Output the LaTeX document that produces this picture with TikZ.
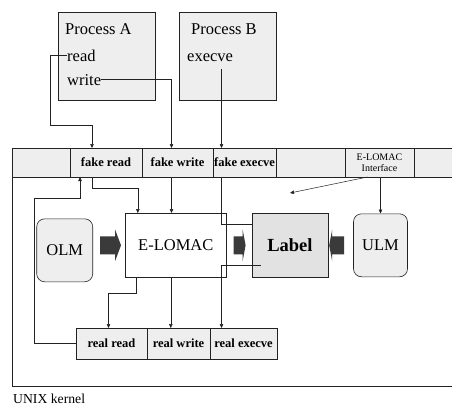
\documentclass[tikz,border=0pt]{standalone}
\usepackage{fontspec}
\setmainfont{Liberation Serif}
\usetikzlibrary{positioning, arrows.meta}
\definecolor{scan}{HTML}{EEEEEE}
\definecolor{scanlabel}{HTML}{E2E2E2}
\definecolor{ink}{HTML}{222222}
\definecolor{blockfill}{HTML}{3A3A3A}

\begin{document}
\begin{tikzpicture}[
    x=1pt, y=-1pt,
    >={Triangle[length=4pt, width=3.5pt]},
    proc/.style={draw=ink, fill=scan, anchor=north west, minimum width=97pt,
                 minimum height=88pt, line width=0.6pt},
    ptext/.style={anchor=base west, inner sep=0pt, font=\fontsize{16.5}{18}\selectfont},
    cell/.style={draw=ink, fill=scan, outer sep=0pt, inner sep=0pt, minimum height=29pt,
                 line width=0.6pt, font=\fontsize{12.5}{14}\selectfont\bfseries},
    modbox/.style={draw=ink, fill=scan, rounded corners=8pt, minimum width=56pt,
                   minimum height=63pt, line width=0.6pt, font=\fontsize{16.5}{18}\selectfont},
    fat/.style={fill=blockfill},
    link/.style={draw=ink, line width=0.5pt},
]
\useasboundingbox (0,0) rectangle (452,407);
\fill[white] (0,0) rectangle (452,407);

% kernel frame and its name
\node[draw=ink, line width=0.6pt, anchor=north west, minimum width=450pt,
      minimum height=238pt, inner sep=0pt, outer sep=0pt] (kern) at (12,148) {};
\node[anchor=base west, inner sep=0pt, font=\fontsize{13.7}{15}\selectfont] (kname) at (13,403) {UNIX kernel};

% system call table
\node[cell, anchor=north west, minimum width=58pt] (c0) at (12,148) {};
\node[cell, right=0pt of c0, minimum width=72pt] (frd) {fake read};
\node[cell, right=0pt of frd, minimum width=71pt] (fwr) {fake write};
\node[cell, right=0pt of fwr, minimum width=63pt] (fex) {fake execve};
\node[cell, right=0pt of fex, minimum width=69pt] (c4) {};
\node[cell, right=0pt of c4, minimum width=69pt, align=center,
      font=\fontsize{10}{11.5}\selectfont] (intf) {E-LOMAC\\Interface};
\node[cell, right=0pt of intf, minimum width=48pt] (c6) {};

\node[cell, anchor=north west, minimum width=71pt, minimum height=31pt] (rrd) at (76,328) {real read};
\node[cell, right=0pt of rrd, minimum width=63pt, minimum height=31pt] (rwr) {real write};
\node[cell, right=0pt of rwr, minimum width=67pt, minimum height=31pt] (rex) {real execve};

% processes
\node[proc] (pa) at (58,12) {};
\node[ptext] (pan) at (65,34) {Process A};
\node[ptext] (rd) at (67,61) {read};
\node[ptext] (wr) at (67,85) {write};
\node[proc] (pb) at (179,12) {};
\node[ptext] (pbn) at (191,34) {Process B};
\node[ptext] (ex) at (187,61) {execve};

% modules
\node[draw=ink, fill=white, anchor=north west, minimum width=101pt, minimum height=64pt,
      line width=0.6pt, font=\fontsize{16.5}{18}\selectfont] (elo) at (125,213) {E-LOMAC};
\node[draw=ink, fill=scanlabel, minimum width=76pt, minimum height=64pt, line width=0.6pt,
      right=25pt of elo, font=\fontsize{18.5}{20}\selectfont\bfseries] (lab) {Label};
\node[modbox, right=25pt of lab, minimum width=54pt] (ulm) {ULM};
\node[modbox, left=32pt of elo, yshift=-5pt] (olm) {OLM};

% block arrows
\fill[fat] ([xshift=-25pt]elo.west) ++(0,-9) -- ++(15,0) -- ++(0,-7) -- ++(6,16)
    -- ++(-6,16) -- ++(0,-7) -- ++(-15,0) -- cycle;
\fill[fat] ([xshift=7pt]elo.east) ++(0,-9) -- ++(9,0) -- ++(0,-7) -- ++(3,16)
    -- ++(-3,16) -- ++(0,-7) -- ++(-9,0) -- cycle;
\fill[fat] ([xshift=-9pt]ulm.west) ++(0,-9) -- ++(-12,0) -- ++(0,-7) -- ++(-3,16)
    -- ++(3,16) -- ++(0,-7) -- ++(12,0) -- cycle;

% calls into the table
\draw[link, ->] (rd.west) -| ++(-17,70) -| ([xshift=-14pt]frd.north);
\draw[link, ->] (wr.east) -| ([xshift=-6pt]fwr.north);
\draw[link, ->] ([xshift=-23pt, yshift=-8pt]fex.north |- ex.south) -- ([xshift=-23pt]fex.north);

% table to modules
\draw[link, ->] ([xshift=-14pt]frd.south) -- ++(0,11) -| ([xshift=-38pt]elo.north);
\draw[link, ->] ([xshift=-6pt]fwr.south) -- ([xshift=-6pt]fwr.south |- elo.north);
\draw[link] ([xshift=-23pt]fex.south) |- ([yshift=-11pt]lab.north west);
\draw[link, ->] (ulm.north |- intf.south) -- (ulm.north);
\coordinate (aim) at (290,193);
\draw[link, ->] ([xshift=-12pt]intf.south) -- (aim);

% modules to real calls
\draw[link, ->] ([xshift=-40pt]elo.south) -- ++(0,16) -| ([xshift=-3pt]rrd.north);
\draw[link, ->] ([xshift=-5pt]elo.south) -- ([xshift=-5pt]elo.south |- rwr.north);
\draw[link, ->] ([shift={(9pt,12pt)}]lab.south west) -| ([xshift=-22pt]rex.north);
\draw[link, ->] (rrd.west) -| ++(-42,-145) -| ([xshift=-26pt]frd.south);

\end{tikzpicture}
\end{document}
